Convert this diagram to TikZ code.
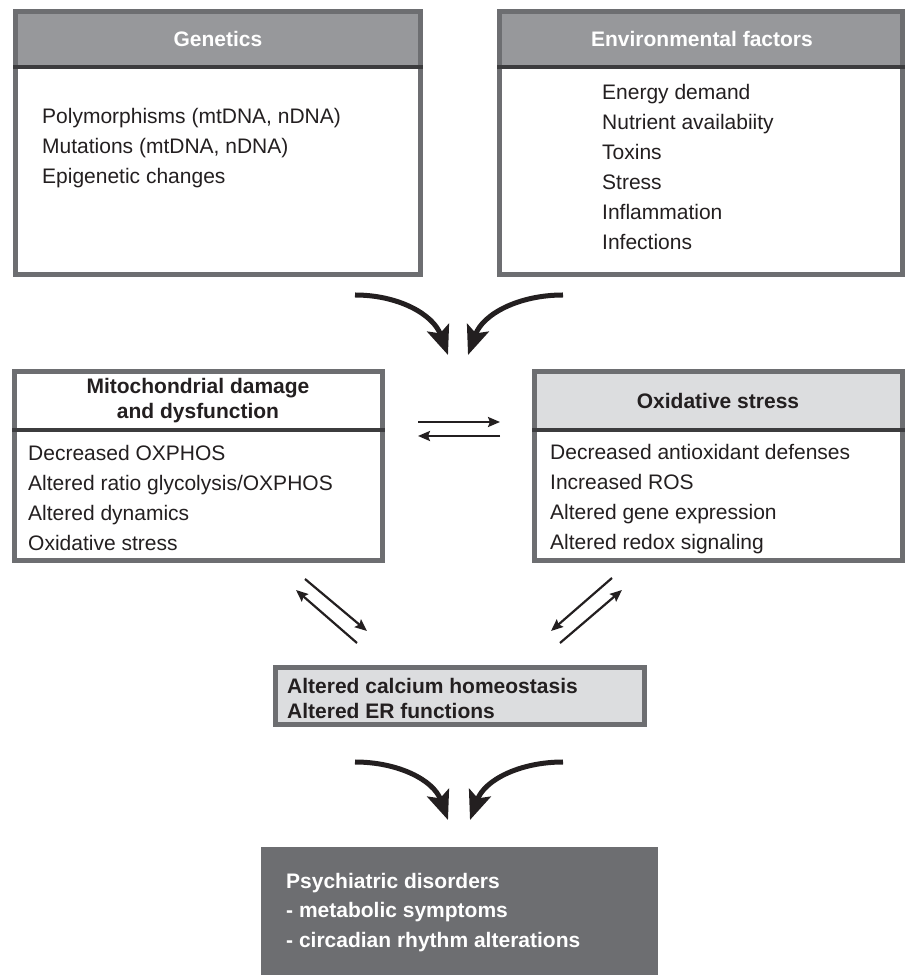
\documentclass[tikz,border=0pt]{standalone}
\usepackage{fontspec}
\setmainfont{Liberation Sans}
\usetikzlibrary{arrows.meta}
\definecolor{bord}{HTML}{6D6E71}
\definecolor{hdr}{HTML}{97989B}
\definecolor{lite}{HTML}{DCDDDF}
\definecolor{divc}{HTML}{3C3C3E}
\definecolor{ink}{HTML}{231F20}
\begin{document}
\begin{tikzpicture}[x=1pt,y=1pt,
  box/.style={draw=bord,line width=5pt,inner sep=0pt,outer sep=0pt},
  hfill/.style={inner sep=0pt,outer sep=0pt,fill=#1},
  divline/.style={draw=divc,line width=4pt},
  body/.style={inner sep=0pt,align=left,anchor=west,text=ink,font=\fontsize{21}{30}\selectfont},
  head/.style={inner sep=0pt,align=center,font=\bfseries\fontsize{21}{25}\selectfont},
  big/.style={draw=ink,line width=5pt,-{Stealth[length=29pt,width=23pt,inset=6pt]}},
  thin/.style={draw=ink,line width=2.2pt,-{Stealth[length=12pt,width=10pt,inset=2pt]}},
]
\useasboundingbox (0,0) rectangle (905,975);

% Genetics
\node[box,fill=white,minimum width=405pt,minimum height=263pt] (gen) at (218,832) {};
\node[hfill=hdr,minimum width=400pt,minimum height=53pt] (genh) at (218,934.5) {};
\node[head,text=white] (gent) at (218,936) {Genetics};
\draw[divline] ([xshift=-2.5pt]gen.west |- genh.south) -- ([xshift=2.5pt]gen.east |- genh.south);
\node[body] (genb) at (42,827) {Polymorphisms (mtDNA, nDNA)\\Mutations (mtDNA, nDNA)\\Epigenetic changes};

% Environmental factors
\node[box,fill=white,minimum width=403pt,minimum height=263pt] (env) at (701,832) {};
\node[hfill=hdr,minimum width=398pt,minimum height=53pt] (envh) at (701,934.5) {};
\node[head,text=white] (envt) at (702,936) {Environmental factors};
\draw[divline] ([xshift=-2.5pt]env.west |- envh.south) -- ([xshift=2.5pt]env.east |- envh.south);
\node[body] (envb) at (602,807.5) {Energy demand\\Nutrient availabiity\\Toxins\\Stress\\Inflammation\\Infections};

% Mitochondrial damage
\node[box,fill=white,minimum width=368pt,minimum height=189pt] (mito) at (198.5,509) {};
\node[hfill=white,minimum width=363pt,minimum height=56pt] (mitoh) at (198.5,573) {};
\node[head,text=ink] (mitot) at (198,574) {Mitochondrial damage\\and dysfunction};
\draw[divline] ([xshift=-2.5pt]mito.west |- mitoh.south) -- ([xshift=2.5pt]mito.east |- mitoh.south);
\node[body] (mitob) at (28,477) {Decreased OXPHOS\\Altered ratio glycolysis/OXPHOS\\Altered dynamics\\Oxidative stress};

% Oxidative stress
\node[box,fill=white,minimum width=368pt,minimum height=189pt] (oxi) at (718.5,509) {};
\node[hfill=lite,minimum width=363pt,minimum height=56pt] (oxih) at (718.5,573) {};
\node[head,text=ink] (oxit) at (718,574) {Oxidative stress};
\draw[divline] ([xshift=-2.5pt]oxi.west |- oxih.south) -- ([xshift=2.5pt]oxi.east |- oxih.south);
\node[body] (oxib) at (550,475.5) {Decreased antioxidant defenses\\Increased ROS\\Altered gene expression\\Altered redox signaling};

% Calcium
\node[box,fill=lite,minimum width=369pt,minimum height=57pt] (cal) at (460,279) {};
\node[body,font=\bfseries\fontsize{21}{25}\selectfont] (calt) at (287,276.5) {Altered calcium homeostasis\\Altered ER functions};

% Psychiatric
\node[fill=bord,inner sep=0pt,outer sep=0pt,minimum width=397pt,minimum height=128pt] (psy) at (459.5,64) {};
\node[body,text=white,font=\bfseries\fontsize{21}{29.5}\selectfont] (psyt) at (286,62.5) {Psychiatric disorders\\- metabolic symptoms\\- circadian rhythm alterations};

% thick arrows
\coordinate (a1s) at (355,680); \coordinate (a1e) at (448,620);
\coordinate (a2s) at (563,680); \coordinate (a2e) at (468,620);
\draw[big] (a1s) to[out=0,in=110] (a1e);
\draw[big] (a2s) to[out=180,in=70] (a2e);
\coordinate (b1s) at (355,213); \coordinate (b1e) at (448,155);
\coordinate (b2s) at (563,213); \coordinate (b2e) at (470,155);
\draw[big] (b1s) to[out=0,in=110] (b1e);
\draw[big] (b2s) to[out=180,in=70] (b2e);

% thin arrows
\coordinate (h1s) at (418,553); \coordinate (h1e) at (500,553);
\coordinate (h2s) at (500,539); \coordinate (h2e) at (418,539);
\draw[thin] (h1s) -- (h1e);
\draw[thin] (h2s) -- (h2e);
\coordinate (d1s) at (305,396); \coordinate (d1e) at (367,344);
\coordinate (d2s) at (357,332); \coordinate (d2e) at (296,385);
\coordinate (d3s) at (612,397); \coordinate (d3e) at (551,344);
\coordinate (d4s) at (560,332); \coordinate (d4e) at (622,385);
\draw[thin] (d1s) -- (d1e);
\draw[thin] (d2s) -- (d2e);
\draw[thin] (d3s) -- (d3e);
\draw[thin] (d4s) -- (d4e);
\end{tikzpicture}
\end{document}
